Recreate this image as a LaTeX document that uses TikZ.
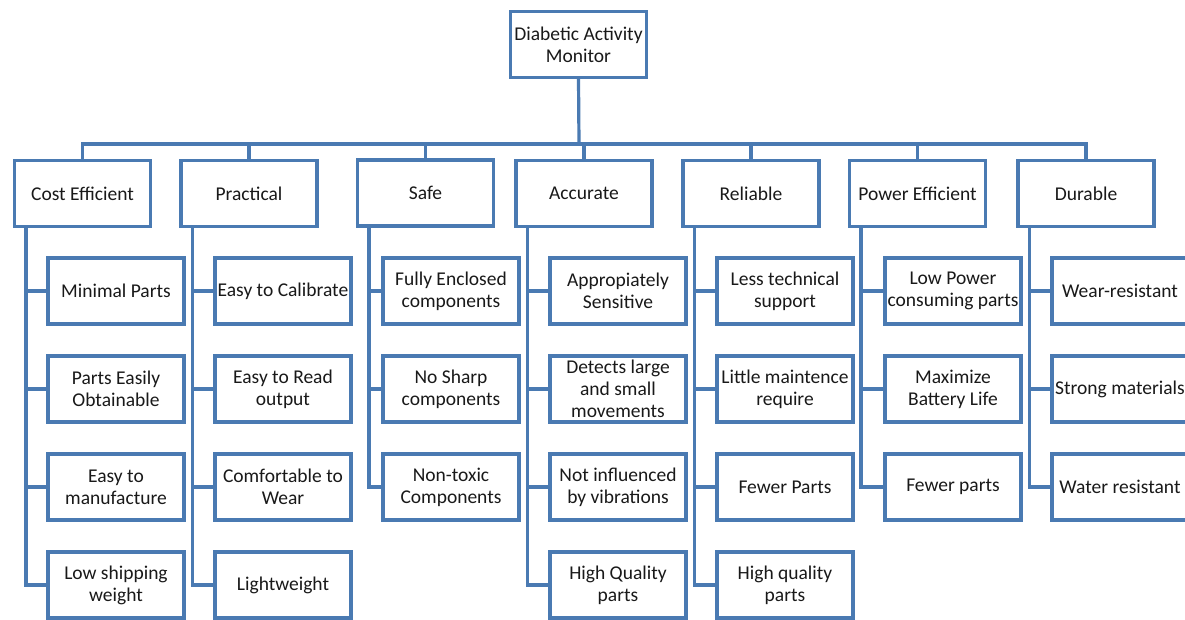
\documentclass[tikz,border=0pt]{standalone}
\usepackage{fontspec}
\setmainfont{Carlito}
\definecolor{bblue}{RGB}{74,122,178}
\definecolor{txt}{RGB}{25,25,25}
\begin{document}
\begin{tikzpicture}[x=1pt,y=-1pt,
  box/.style={draw=bblue, line width=3.2pt, fill=white, minimum width=136pt, minimum height=66pt,
    align=center, inner sep=0pt, text=txt, font=\fontsize{19.5}{22}\selectfont},
  link/.style={draw=bblue, line width=3.2pt}]
\useasboundingbox (0,0) rectangle (1185,620);
\clip (0,0) rectangle (1185,620);
\fill[white] (0,0) rectangle (1185,620);
% root
\node[box] (root) at (578.5,44.5) {Diabetic Activity\\Monitor};
\coordinate (bus) at (579,144);
% categories
\node[box] (c1) at (82.5,193.5) {Cost Efficient};
\node[box] (c2) at (249,193.5) {Practical};
\node[box] (c3) at (425.5,193) {Safe};
\node[box] (c4) at (584,193.5) {Accurate};
\node[box] (c5) at (751,193.5) {Reliable};
\node[box] (c6) at (917.5,193.5) {Power Efficient};
\node[box] (c7) at (1086,193.5) {Durable};
\draw[link] (root.south) -- (bus);
\foreach \c in {c1,c2,c3,c4,c5,c6,c7} \draw[link] (bus) -| (\c.north);
% children
\node[box] (c1a) at (116,291) {Minimal Parts};
\node[box] (c1b) at (116,389) {Parts Easily\\Obtainable};
\node[box] (c1c) at (116,487) {Easy to\\manufacture};
\node[box] (c1d) at (116,585) {Low shipping\\weight};
\node[box] (c2a) at (283,291) {Easy to Calibrate};
\node[box] (c2b) at (283,389) {Easy to Read\\output};
\node[box] (c2c) at (283,487) {Comfortable to\\Wear};
\node[box] (c2d) at (283,585) {Lightweight};
\node[box] (c3a) at (451,291) {Fully Enclosed\\components};
\node[box] (c3b) at (451,389) {No Sharp\\components};
\node[box] (c3c) at (451,487) {Non-toxic\\Components};
\node[box] (c4a) at (618,291) {Appropiately\\Sensitive};
\node[box] (c4b) at (618,389) {Detects large\\and small\\movements};
\node[box] (c4c) at (618,487) {Not influenced\\by vibrations};
\node[box] (c4d) at (618,585) {High Quality\\parts};
\node[box] (c5a) at (785,291) {Less technical\\support};
\node[box] (c5b) at (785,389) {Little maintence\\require};
\node[box] (c5c) at (785,487) {Fewer Parts};
\node[box] (c5d) at (785,585) {High quality\\parts};
\node[box] (c6a) at (953,291) {Low Power\\consuming parts};
\node[box] (c6b) at (953,389) {Maximize\\Battery Life};
\node[box] (c6c) at (953,487) {Fewer parts};
\node[box] (c7a) at (1120,291) {Wear-resistant};
\node[box] (c7b) at (1120,389) {Strong materials};
\node[box] (c7c) at (1120,487) {Water resistant};
% connectors
\foreach \c/\k in {c1/a,c1/b,c1/c,c1/d,c2/a,c2/b,c2/c,c2/d,c3/a,c3/b,c3/c,c4/a,c4/b,c4/c,c4/d,c5/a,c5/b,c5/c,c5/d,c6/a,c6/b,c6/c,c7/a,c7/b,c7/c}
  \draw[link] ([xshift=13pt]\c.south west) |- (\c\k.west);
\end{tikzpicture}
\end{document}
